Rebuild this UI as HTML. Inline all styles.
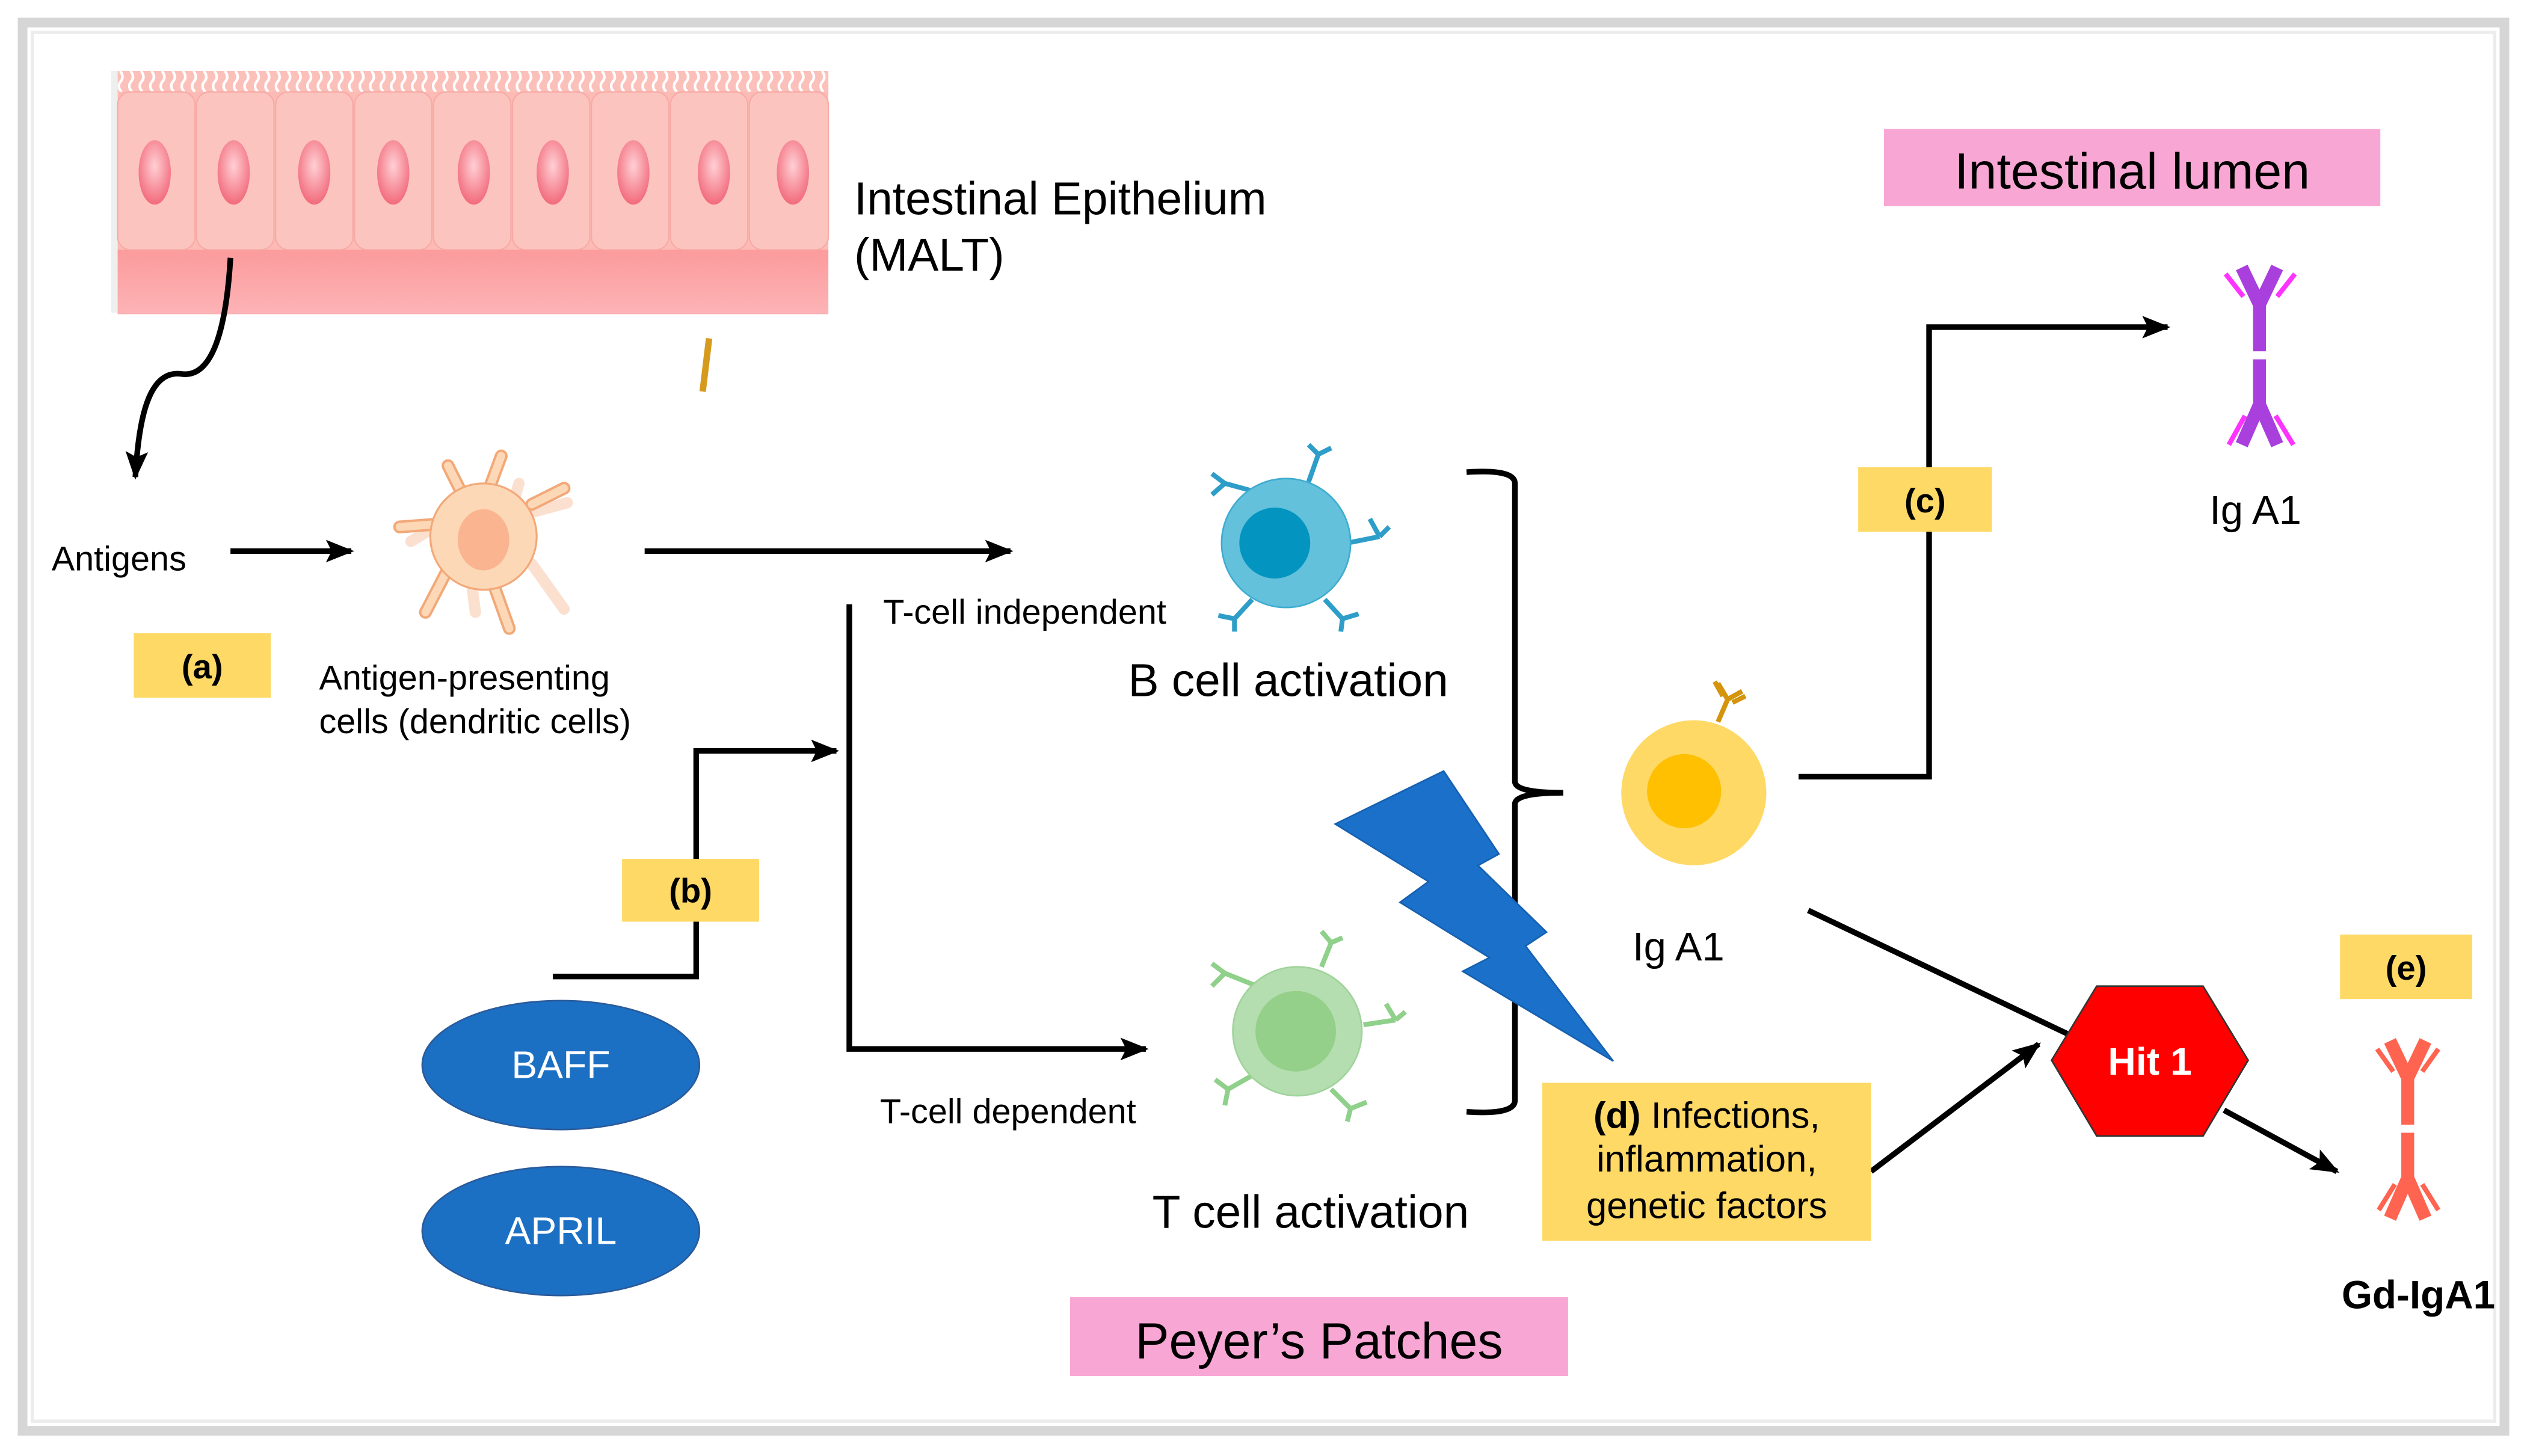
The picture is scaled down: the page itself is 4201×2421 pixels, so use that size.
<!DOCTYPE html>
<html><head><meta charset="utf-8"><style>
html,body{margin:0;padding:0;background:#fff;}
svg{display:block;}
text{font-family:"Liberation Sans",sans-serif;}
</style></head><body>
<svg width="4201" height="2421" viewBox="0 0 1568 903.6" xmlns="http://www.w3.org/2000/svg">
<defs>
<marker id="ah" viewBox="0 0 10 10" refX="9" refY="5" markerWidth="5" markerHeight="5" orient="auto" markerUnits="strokeWidth"><path d="M0,1 L10,5 L0,9 L2,5 z" fill="#000"/></marker>
<radialGradient id="nuc" cx="50%" cy="40%" r="60%"><stop offset="0" stop-color="#ffd0d4"/><stop offset="1" stop-color="#f26a7c"/></radialGradient>
<linearGradient id="band" x1="0" y1="0" x2="0" y2="1"><stop offset="0" stop-color="#fb9b9c"/><stop offset="1" stop-color="#fdb3b6"/></linearGradient>
<pattern id="villi" x="73" y="44" width="6.5" height="13" patternUnits="userSpaceOnUse">
<rect width="6.5" height="13" fill="#fcc0ba"/>
<path d="M1.5,0 q3,4 0,7 q-2,3 1,6" fill="none" stroke="#fff" stroke-width="1.6"/>
</pattern>
<g id="ab">
 <path d="M-11,-55 L0,-32 L11,-55" fill="none" stroke-width="8"/>
 <line x1="0" y1="-34" x2="0" y2="-3" stroke-width="8"/>
 <line x1="0" y1="2" x2="0" y2="30" stroke-width="8"/>
 <path d="M-11,55 L0,30 L11,55" fill="none" stroke-width="8"/>
</g>
</defs>
<rect x="0" y="0" width="1568" height="903.6" fill="#fff"/>
<rect x="14" y="14" width="1540" height="874" fill="#fff" stroke="#d6d6d6" stroke-width="6"/>
<rect x="20" y="20" width="1528" height="862" fill="#fff" stroke="#ececec" stroke-width="2"/>

<!-- epithelium -->
<rect x="69" y="44" width="4" height="150" fill="#eef0f0"/>
<rect x="73" y="52" width="441" height="105" fill="#fdbbb5"/>
<rect x="73" y="44" width="441" height="13" fill="url(#villi)"/>
<rect x="73" y="155" width="441" height="40" fill="url(#band)"/>
<g fill="#fcc4be" stroke="#f7aaa6" stroke-width="0.8">
<rect x="73" y="57" width="48" height="98" rx="8"/>
<rect x="122" y="57" width="48" height="98" rx="8"/>
<rect x="171" y="57" width="48" height="98" rx="8"/>
<rect x="220" y="57" width="48" height="98" rx="8"/>
<rect x="269" y="57" width="48" height="98" rx="8"/>
<rect x="318" y="57" width="48" height="98" rx="8"/>
<rect x="367" y="57" width="48" height="98" rx="8"/>
<rect x="416" y="57" width="48" height="98" rx="8"/>
<rect x="465" y="57" width="49" height="98" rx="8"/>
</g>
<g fill="url(#nuc)">
<ellipse cx="96" cy="107" rx="10" ry="20"/><ellipse cx="145" cy="107" rx="10" ry="20"/>
<ellipse cx="195" cy="107" rx="10" ry="20"/><ellipse cx="244" cy="107" rx="10" ry="20"/>
<ellipse cx="294" cy="107" rx="10" ry="20"/><ellipse cx="343" cy="107" rx="10" ry="20"/>
<ellipse cx="393" cy="107" rx="10" ry="20"/><ellipse cx="443" cy="107" rx="10" ry="20"/>
<ellipse cx="492" cy="107" rx="10" ry="20"/>
</g>
<text x="530" y="133" font-size="28.6">Intestinal Epithelium</text>
<text x="530" y="168" font-size="28.6">(MALT)</text>
<line x1="440" y1="210" x2="436" y2="243" stroke="#d69a1e" stroke-width="4"/>

<path d="M143,160 C140,210 130,235 112,232 C92,230 86,260 84,296" fill="none" stroke="#000" stroke-width="3.5" marker-end="url(#ah)"/>

<text x="32" y="354" font-size="21.5">Antigens</text>
<line x1="143" y1="342" x2="218" y2="342" stroke="#000" stroke-width="3.5" marker-end="url(#ah)"/>
<rect x="83" y="393" width="85" height="40" fill="#fed966"/>
<text x="125.5" y="421" font-size="21" font-weight="bold" text-anchor="middle">(a)</text>

<!-- dendritic cell -->
<g stroke-linecap="round">
<g stroke="#fbe0d0" stroke-width="7" fill="none">
<path d="M268,328 L255,336"/><path d="M330,318 L352,312"/><path d="M330,350 L350,378"/><path d="M293,365 L295,380"/><path d="M320,307 L322,300"/>
</g>
<g stroke="#f3a878" stroke-width="8" fill="none">
<path d="M275,325 L248,327 M286,305 L278,289 M304,302 L311,283 M330,313 L350,303 M278,353 L264,380 M306,362 L316,390"/>
</g>
<g stroke="#fcd8b7" stroke-width="5" fill="none">
<path d="M275,325 L248,327 M286,305 L278,289 M304,302 L311,283 M330,313 L350,303 M278,353 L264,380 M306,362 L316,390"/>
</g>
<circle cx="300" cy="333" r="33" fill="#fcd8b7" stroke="#f3a878" stroke-width="1.2"/>
<ellipse cx="300" cy="335" rx="16" ry="19" fill="#fab590"/>
</g>
<text x="198" y="428" font-size="21.5">Antigen-presenting</text>
<text x="198" y="455" font-size="21.5">cells (dendritic cells)</text>

<line x1="400" y1="342" x2="627" y2="342" stroke="#000" stroke-width="3.5" marker-end="url(#ah)"/>
<polyline points="527,375 527,651 711,651" fill="none" stroke="#000" stroke-width="3.5" marker-end="url(#ah)"/>
<polyline points="343,606 432,606 432,466 519,466" fill="none" stroke="#000" stroke-width="3.5" marker-end="url(#ah)"/>
<rect x="386" y="533" width="85" height="39" fill="#fed966"/>
<text x="428.5" y="560" font-size="21" font-weight="bold" text-anchor="middle">(b)</text>

<ellipse cx="348" cy="661" rx="86" ry="40" fill="#1b70c4" stroke="#2a5a9a" stroke-width="1"/>
<text x="348" y="669" font-size="24" fill="#fff" text-anchor="middle">BAFF</text>
<ellipse cx="348" cy="764" rx="86" ry="40" fill="#1b70c4" stroke="#2a5a9a" stroke-width="1"/>
<text x="348" y="772" font-size="24" fill="#fff" text-anchor="middle">APRIL</text>

<text x="548" y="387" font-size="21.5">T-cell independent</text>
<text x="546" y="697" font-size="21.5">T-cell dependent</text>

<!-- B cell -->
<g stroke="#2e9ec9" stroke-width="3" fill="none">
<path d="M812,299 L818,282 M818,282 L812,276 M818,282 L826,278"/>
<path d="M782,306 L760,300 M760,300 L752,294 M760,300 L752,307"/>
<path d="M836,337 L856,333 M856,333 L850,322 M856,333 L862,327"/>
<path d="M777,372 L766,384 M766,384 L756,382 M766,384 L766,392"/>
<path d="M822,372 L833,384 M833,384 L843,381 M833,384 L832,392"/>
</g>
<circle cx="798" cy="337" r="40" fill="#64c1dc" stroke="#40acd0" stroke-width="1"/>
<circle cx="791" cy="337" r="22" fill="#0494c0"/>
<text x="700" y="432" font-size="28.6">B cell activation</text>

<!-- T cell -->
<g stroke="#8fd08a" stroke-width="3" fill="none">
<path d="M820,600 L826,585 M826,585 L820,578 M826,585 L833,582"/>
<path d="M780,612 L760,604 M760,604 L752,598 M760,604 L752,612"/>
<path d="M846,636 L866,633 M866,633 L860,623 M866,633 L872,628"/>
<path d="M776,668 L762,676 M762,676 L754,670 M762,676 L760,686"/>
<path d="M826,676 L838,688 M838,688 L848,684 M838,688 L836,696"/>
</g>
<circle cx="805" cy="640" r="40" fill="#b5deb0" stroke="#9fd39a" stroke-width="1"/>
<circle cx="804" cy="640" r="25" fill="#95d08a"/>
<text x="715" y="762" font-size="28.6">T cell activation</text>

<path d="M910,293 Q940,291 940,300 L940,485 Q940,492 970,492 Q940,492 940,499 L940,683 Q940,692 910,690" fill="none" stroke="#000" stroke-width="3.5"/>

<polygon points="828.5,511.4 895.8,478.5 930.1,530 917.1,537.1 959.6,578.5 946.6,587.1 1001,658.5 907.6,602.8 924.2,594.3 868.7,560 886.4,547.1" fill="#1b70c9" stroke="#1660b0" stroke-width="1"/>

<!-- IgA1 cell -->
<g stroke="#d4940c" stroke-width="3" fill="none">
<path d="M1066,448 L1072,434 M1072,434 L1066,424 M1072,434 L1081,429 M1069,432 L1064,423 M1075,436 L1083,432"/>
</g>
<circle cx="1051" cy="492" r="45" fill="#fed966"/>
<circle cx="1045" cy="491" r="23" fill="#fec000"/>
<text x="1013" y="596" font-size="25">Ig A1</text>

<polyline points="1116,482 1197,482 1197,203 1345,203" fill="none" stroke="#000" stroke-width="3.5" marker-end="url(#ah)"/>
<rect x="1153" y="290" width="83" height="40" fill="#fed966"/>
<text x="1194.5" y="318" font-size="21" font-weight="bold" text-anchor="middle">(c)</text>

<rect x="1169" y="80" width="308" height="48" fill="#f8a7d5"/>
<text x="1323" y="117" font-size="31.5" text-anchor="middle">Intestinal lumen</text>

<g transform="translate(1402,221)" stroke="#a93fdc"><use href="#ab"/></g>
<g stroke="#ff33ff" stroke-width="3" fill="none">
<line x1="1381" y1="170" x2="1392" y2="184"/><line x1="1424" y1="170" x2="1413" y2="184"/>
<line x1="1383" y1="276" x2="1393" y2="258"/><line x1="1423" y1="276" x2="1412" y2="258"/>
</g>
<text x="1371" y="325" font-size="25">Ig A1</text>

<line x1="1122" y1="565" x2="1290" y2="645" stroke="#000" stroke-width="3.5"/>
<line x1="1380" y1="689" x2="1450" y2="727" stroke="#000" stroke-width="3.5" marker-end="url(#ah)"/>
<line x1="1161" y1="727" x2="1265" y2="648" stroke="#000" stroke-width="3.5" marker-end="url(#ah)"/>
<polygon points="1273,658 1301,612 1367,612 1395,658 1367,705 1301,705" fill="#ff0000" stroke="#333" stroke-width="1"/>
<text x="1334" y="667" font-size="24" font-weight="bold" fill="#fff" text-anchor="middle">Hit 1</text>

<rect x="957" y="672" width="204" height="98" fill="#fed966"/>
<text x="1059" y="700" font-size="23" text-anchor="middle"><tspan font-weight="bold">(d)</tspan> Infections,</text>
<text x="1059" y="727" font-size="23" text-anchor="middle">inflammation,</text>
<text x="1059" y="756" font-size="23" text-anchor="middle">genetic factors</text>

<rect x="1452" y="580" width="82" height="40" fill="#fed966"/>
<text x="1493" y="608" font-size="21" font-weight="bold" text-anchor="middle">(e)</text>

<g transform="translate(1494,701)" stroke="#fe6450"><use href="#ab"/></g>
<g stroke="#fe6450" stroke-width="3" fill="none">
<line x1="1475" y1="651" x2="1485" y2="665"/><line x1="1513" y1="651" x2="1503" y2="665"/>
<line x1="1476" y1="751" x2="1486" y2="735"/><line x1="1513" y1="751" x2="1503" y2="735"/>
</g>
<text x="1453" y="812" font-size="24.5" font-weight="bold">Gd-IgA1</text>

<rect x="664" y="805" width="309" height="49" fill="#f8a7d5"/>
<text x="818.5" y="843" font-size="31.5" text-anchor="middle">Peyer’s Patches</text>
</svg>
</body></html>
